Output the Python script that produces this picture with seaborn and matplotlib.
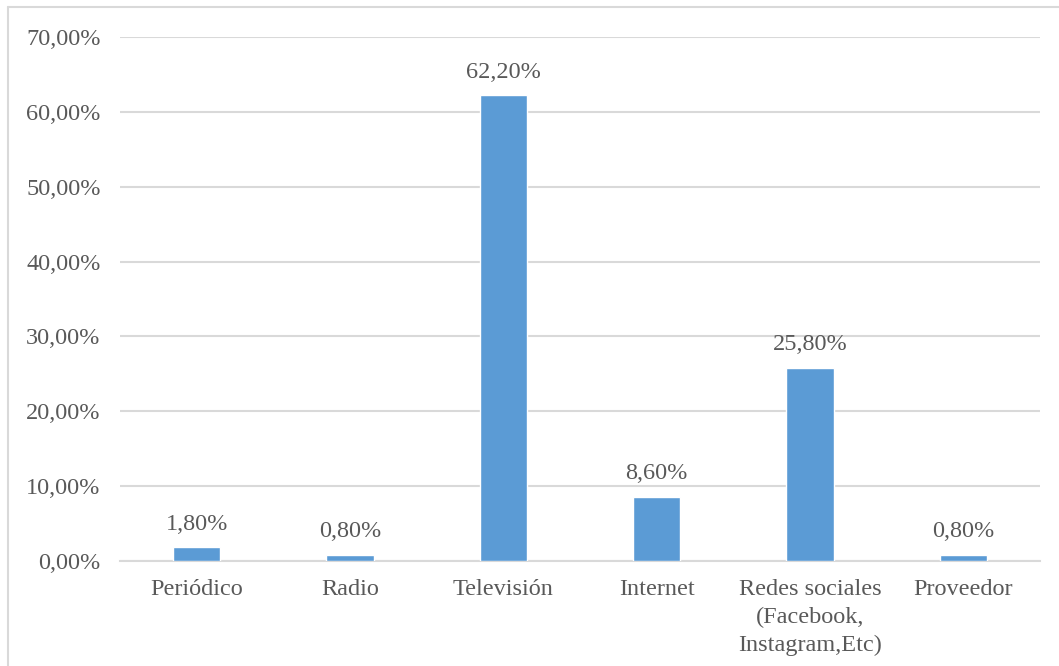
import matplotlib
matplotlib.use("Agg")
import matplotlib.pyplot as plt
from matplotlib.lines import Line2D
import seaborn as sns
import pandas as pd

categories = ["Periódico", "Radio", "Televisión", "Internet",
              "Redes sociales\n(Facebook,\nInstagram,Etc)", "Proveedor"]
values = [1.80, 0.80, 62.20, 8.60, 25.80, 0.80]
yticks = [0, 10, 20, 30, 40, 50, 60, 70]

df = pd.DataFrame({"medio": categories, "pct": values})

sns.set_theme(style="white")
plt.rcParams["font.family"] = ["Liberation Serif", "DejaVu Serif"]

text_color = "#595959"
grid_color = "#D9D9D9"
bar_color = "#5B9BD5"
fsize = 17.5

fig = plt.figure(figsize=(10.59, 6.66), dpi=100)
ax = fig.add_axes([0.1133, 0.1577, 0.8687, 0.7867])

sns.barplot(data=df, x="medio", y="pct", color=bar_color, width=0.31,
            saturation=1, ax=ax, zorder=3)

ax.set_ylim(0, 70)
ax.set_yticks(yticks)
ax.set_yticklabels([f"{v:.2f}%".replace(".", ",") for v in yticks])
ax.set_xlim(-0.5, len(categories) - 0.5)
ax.set_xticks(range(len(categories)))
ax.set_xticklabels(categories, linespacing=1.42, verticalalignment="top")
ax.set_xlabel("")
ax.set_ylabel("")

ax.yaxis.grid(True, color=grid_color, linewidth=1.5, zorder=0)
ax.xaxis.grid(False)
for side in ["top", "right", "left"]:
    ax.spines[side].set_visible(False)
ax.spines["bottom"].set_color(grid_color)
ax.spines["bottom"].set_linewidth(1.5)
ax.spines["bottom"].set_zorder(2)

ax.tick_params(axis="y", length=0, pad=14, labelsize=fsize, labelcolor=text_color)
ax.tick_params(axis="x", length=0, pad=13, labelsize=fsize, labelcolor=text_color)

for container in ax.containers:
    ax.bar_label(container, labels=[f"{v:.2f}%".replace(".", ",") for v in values],
                 padding=9, fontsize=fsize, color=text_color)

# Light frame around the chart area
frame_kw = dict(color=grid_color, linewidth=1.5, transform=fig.transFigure)
fig.add_artist(Line2D([8 / 1059, 8 / 1059], [0, 1 - 7 / 666], **frame_kw))
fig.add_artist(Line2D([8 / 1059, 1], [1 - 7 / 666, 1 - 7 / 666], **frame_kw))

fig.savefig("out.png", dpi=100, facecolor="white")
